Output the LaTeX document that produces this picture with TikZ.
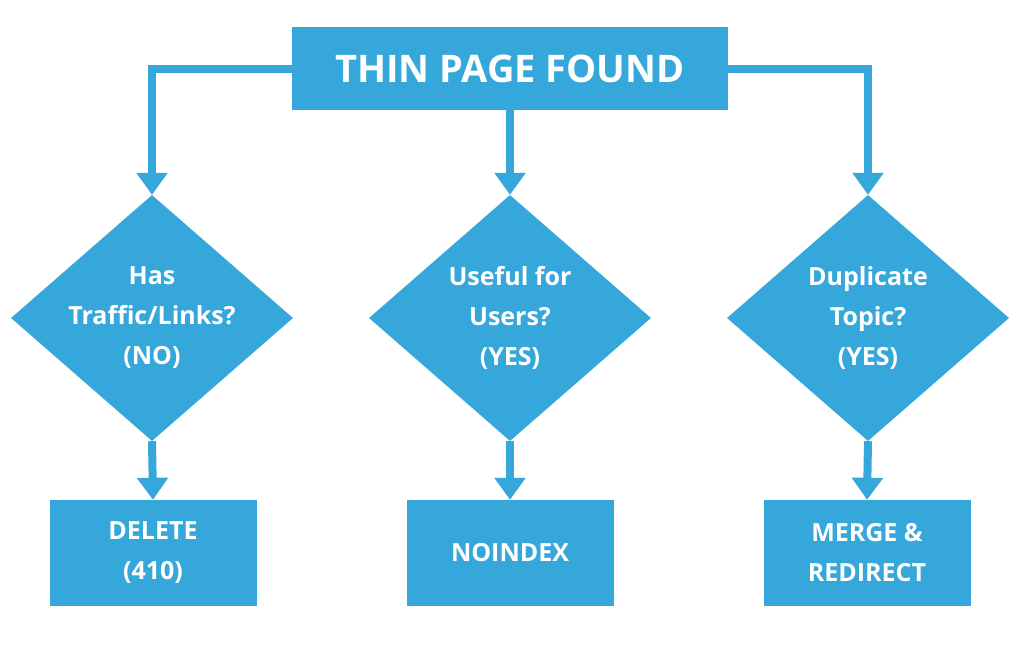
\documentclass[tikz,border=0pt]{standalone}
\usepackage{fontspec}
\setmainfont{Open Sans}
\usetikzlibrary{shapes.geometric,arrows.meta}
\definecolor{fc}{HTML}{35A7DB}
\begin{document}
\begin{tikzpicture}[x=1pt,y=-1pt,
  box/.style={fill=fc,text=white,font=\bfseries,align=center,inner sep=0,anchor=center},
  dia/.style={diamond,fill=fc,text=white,font=\bfseries\fontsize{25}{33}\selectfont,align=center,inner sep=0,minimum width=282pt,minimum height=246pt,aspect=1.15},
  con/.style={draw=fc,line width=8pt,-{Triangle[width=30pt,length=22pt]}}]
\useasboundingbox[fill=white] (0,0) rectangle (1024,667);
\node[box,minimum width=436pt,minimum height=83pt,font=\bfseries\fontsize{38}{40}\selectfont] (top) at (510,68.5) {THIN PAGE FOUND};
\node[dia] (d1) at (152,318) {};
\node[dia] (d2) at (510,318) {};
\node[dia] (d3) at (868,318) {};
\node[text=white,font=\bfseries\fontsize{25}{40}\selectfont,align=center] at (152,318) {Has\\Traffic/Links?\\(NO)};
\node[text=white,font=\bfseries\fontsize{25}{40}\selectfont,align=center] at (510,318) {Useful for\\Users?\\(YES)};
\node[text=white,font=\bfseries\fontsize{25}{40}\selectfont,align=center] at (868,318) {Duplicate\\Topic?\\(YES)};
\tikzset{bb/.style={box,minimum width=207pt,minimum height=106pt,font=\bfseries\fontsize{25}{40}\selectfont}}
\node[bb] (b1) at (153,553) {DELETE\\(410)};
\node[bb] (b2) at (510,553) {NOINDEX};
\node[bb] (b3) at (867,553) {MERGE \&\\REDIRECT};
\draw[con] (top.west) -| (d1.north);
\draw[con] (top.east) -| (d3.north);
\draw[con] (top.south) -- (d2.north);
\draw[con] (d1.south) -- (b1.north);
\draw[con] (d2.south) -- (b2.north);
\draw[con] (d3.south) -- (b3.north);
\end{tikzpicture}
\end{document}
